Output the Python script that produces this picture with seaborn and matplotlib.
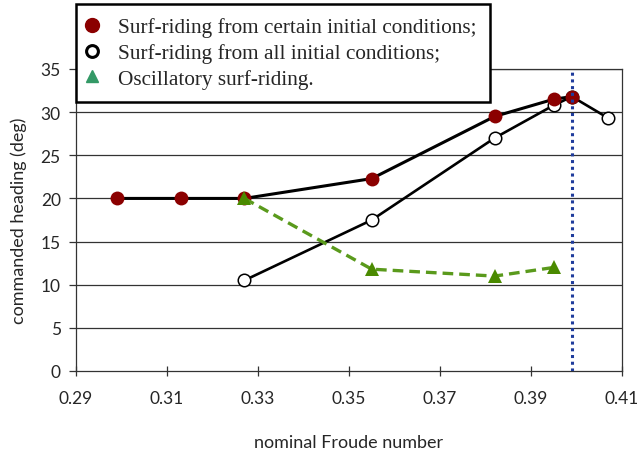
import matplotlib
matplotlib.use("Agg")
import matplotlib.pyplot as plt
from matplotlib.lines import Line2D
import seaborn as sns
import pandas as pd

# Surf-riding from certain initial conditions
froude_certain = [0.299, 0.313, 0.327, 0.355, 0.382, 0.395, 0.399]
heading_certain = [20.0, 20.0, 20.0, 22.3, 29.5, 31.5, 31.8]

# Surf-riding from all initial conditions
froude_all = [0.327, 0.355, 0.382, 0.395, 0.399, 0.407]
heading_all = [10.5, 17.5, 27.0, 30.8, 31.8, 29.3]

# Oscillatory surf-riding
froude_osc = [0.327, 0.355, 0.382, 0.395]
heading_osc = [20.0, 11.8, 11.0, 12.0]

# Threshold Froude number
froude_limit = 0.399

x_ticks = [0.29, 0.31, 0.33, 0.35, 0.37, 0.39, 0.41]
y_ticks = [0, 5, 10, 15, 20, 25, 30, 35]

sns.set_theme(style="white")
plt.rcParams["font.family"] = ["Lato", "DejaVu Sans"]

fig = plt.figure(figsize=(6.38, 4.52), dpi=100)
ax = fig.add_axes([76 / 638, 80 / 452, 546 / 638, 302 / 452])

df_all = pd.DataFrame({"x": froude_all, "y": heading_all})
df_certain = pd.DataFrame({"x": froude_certain, "y": heading_certain})
df_osc = pd.DataFrame({"x": froude_osc, "y": heading_osc})

for yv in y_ticks[1:]:
    ax.axhline(yv, color="#333333", lw=0.9, zorder=1)

sns.lineplot(data=df_all, x="x", y="y", ax=ax, sort=False, color="black", lw=1.9,
             marker="o", markersize=9, markerfacecolor="white",
             markeredgecolor="black", markeredgewidth=1.1, zorder=3)
sns.lineplot(data=df_certain, x="x", y="y", ax=ax, sort=False, color="black", lw=2.2,
             marker="o", markersize=10, markerfacecolor="#8b0000",
             markeredgecolor="#8b0000", markeredgewidth=0, zorder=4)
sns.lineplot(data=df_osc, x="x", y="y", ax=ax, sort=False, color="#5a9a1c", lw=2.4,
             linestyle=(0, (3.2, 1.8)), marker="^", markersize=10,
             markerfacecolor="#4a8a00", markeredgecolor="#4a8a00",
             markeredgewidth=0, zorder=5)

ax.axvline(froude_limit, color="#1f3c9c", lw=2.2, linestyle=(0, (1, 1.2)), zorder=6)

ax.set_xlim(0.29, 0.41)
ax.set_ylim(0, 35)
ax.set_xticks(x_ticks)
ax.set_yticks(y_ticks)
ax.set_xticklabels([f"{v:.2f}" for v in x_ticks])
ax.set_yticklabels([str(v) for v in y_ticks])
ax.tick_params(axis="x", direction="inout", length=7, width=0.9, labelsize=12.5,
               pad=10, color="#333333", bottom=True)
ax.tick_params(axis="y", direction="out", length=5, width=0.9, labelsize=12.5,
               pad=6, color="#333333", left=True)
for side in ["left", "right", "bottom", "top"]:
    ax.spines[side].set_visible(True)
    ax.spines[side].set_color("#333333")
    ax.spines[side].set_linewidth(0.9)

ax.set_xlabel("nominal Froude number", fontsize=13, labelpad=20)
ax.set_ylabel("commanded heading (deg)", fontsize=13, labelpad=10)

handles = [
    Line2D([], [], linestyle="none", marker="o", markersize=10,
           markerfacecolor="#8b0000", markeredgecolor="#8b0000"),
    Line2D([], [], linestyle="none", marker="o", markersize=8.5,
           markerfacecolor="white", markeredgecolor="black", markeredgewidth=2.2),
    Line2D([], [], linestyle="none", marker="^", markersize=9,
           markerfacecolor="#339966", markeredgecolor="#339966"),
]
labels = [
    "Surf-riding from certain initial conditions;",
    "Surf-riding from all initial conditions;",
    "Oscillatory surf-riding.",
]
leg = fig.legend(handles, labels, loc="upper left",
                 bbox_to_anchor=(76 / 638, 1 - 5 / 452),
                 prop={"family": "Liberation Serif", "size": 15.3},
                 frameon=True, fancybox=False, framealpha=1,
                 edgecolor="black", borderpad=0.62, labelspacing=0.28,
                 handletextpad=1.13, handlelength=0.22, borderaxespad=0)
leg.get_frame().set_linewidth(1.8)

fig.savefig("out.png", dpi=100)
